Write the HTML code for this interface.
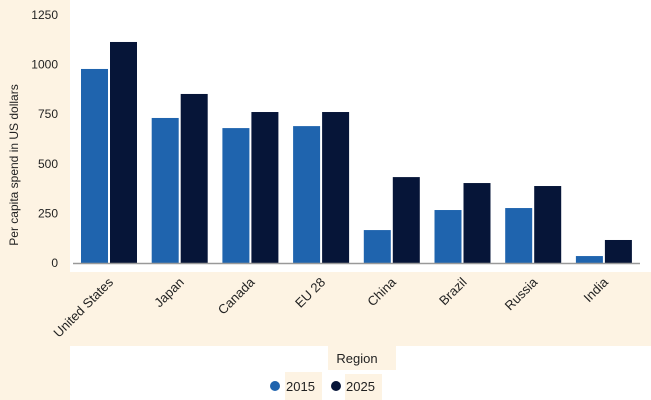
<!DOCTYPE html>
<html><head><meta charset="utf-8"><style>
body{margin:0;background:#fff;}
svg{display:block;font-family:"Liberation Sans",Arial,sans-serif;}
</style></head><body>
<svg width="651" height="400" xmlns="http://www.w3.org/2000/svg">
<rect x="0" y="0" width="70" height="400" fill="#fdf3e3"/>
<rect x="70" y="272" width="581" height="74" fill="#fdf3e3"/>
<rect x="328" y="346" width="68" height="24" fill="#fdf3e3"/>
<rect x="285" y="372" width="37" height="28" fill="#fdf3e3"/>
<rect x="345" y="374" width="37" height="26" fill="#fdf3e3"/>
<g id="bars"></g>
<line x1="73" y1="263.5" x2="640" y2="263.5" stroke="#999" stroke-width="1.5"/>
<g id="yticks" font-size="12" fill="#222" text-anchor="end"></g>
<g id="xticks" font-size="13" fill="#222"></g>
<text transform="translate(18,165) rotate(-90)" text-anchor="middle" font-size="12" fill="#222">Per capita spend in US dollars</text>
<text x="357" y="363" text-anchor="middle" font-size="13" fill="#222">Region</text>
<g><circle cx="275" cy="386" r="5" fill="#1f64ae"/><text x="286" y="391" font-size="13" fill="#222">2015</text></g>
<g><circle cx="336" cy="386" r="5" fill="#061538"/><text x="346" y="391" font-size="13" fill="#222">2025</text></g>
</svg>
<script>
const categories=["United States","Japan","Canada","EU 28","China","Brazil","Russia","India"];
const values2015=[978,731,680,690,166,267,277,35];
const values2025=[1114,852,761,761,433,403,388,116];
const yTicks=[0,250,500,750,1000,1250];
const ns="http://www.w3.org/2000/svg";
const y0=263,yTop=15,yMax=1250;
function y(v){return y0-(v/yMax)*(y0-yTop);}
function gx(i){return 81+70.7*i;}
const bw=27;
const bars=document.getElementById('bars');
function bar(x,v,c,n){const r=document.createElementNS(ns,'rect');r.setAttribute('x',x);r.setAttribute('y',y(v));r.setAttribute('width',bw);r.setAttribute('height',y0-y(v));r.setAttribute('fill',c);


bars.appendChild(r);}
categories.forEach((c,i)=>{const k=c.toLowerCase().replace(/ /g,'-');
bar(gx(i),values2015[i],'#1f64ae','bar-2015-'+k);
bar(gx(i)+bw+2,values2025[i],'#061538','bar-2025-'+k);
const t=document.createElementNS(ns,'text');
t.setAttribute('transform',`translate(${gx(i)+bw+6},283) rotate(-45)`);
t.setAttribute('text-anchor','end');t.textContent=c;


document.getElementById('xticks').appendChild(t);});
yTicks.forEach(v=>{const t=document.createElementNS(ns,'text');t.setAttribute('x',58);t.setAttribute('y',y(v)+4);t.textContent=v;


document.getElementById('yticks').appendChild(t);});
</script>
</body></html>
